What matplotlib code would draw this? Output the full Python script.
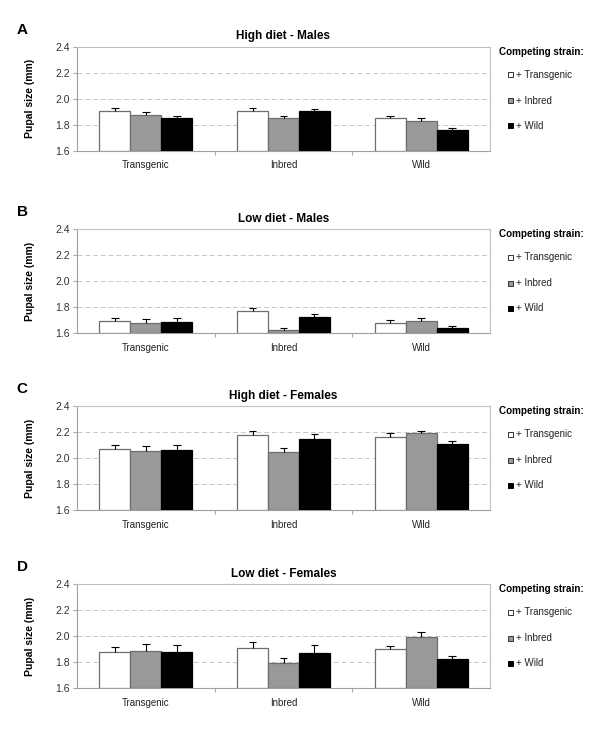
import matplotlib
matplotlib.use("Agg")
import matplotlib.pyplot as plt
from matplotlib.patches import Rectangle
import numpy as np

plt.rcParams['font.family'] = ['Liberation Sans', 'DejaVu Sans']

categories = ["Transgenic", "Inbred", "Wild"]
series_names = ["+ Transgenic", "+ Inbred", "+ Wild"]
panel_letters = ["A", "B", "C", "D"]
panel_titles = ["High diet - Males", "Low diet - Males", "High diet - Females", "Low diet - Females"]

# values[panel][series][category]
means_A = [[1.905, 1.905, 1.849], [1.877, 1.854, 1.826], [1.851, 1.903, 1.759]]
errs_A = [[0.025, 0.025, 0.020], [0.023, 0.015, 0.023], [0.014, 0.020, 0.016]]
means_B = [[1.692, 1.769, 1.677], [1.682, 1.623, 1.697], [1.687, 1.723, 1.643]]
errs_B = [[0.023, 0.023, 0.023], [0.030, 0.018, 0.018], [0.028, 0.028, 0.016]]
means_C = [[2.069, 2.176, 2.161], [2.054, 2.049, 2.191], [2.062, 2.148, 2.104]]
errs_C = [[0.028, 0.030, 0.033], [0.038, 0.025, 0.020], [0.038, 0.035, 0.028]]
means_D = [[1.879, 1.912, 1.900], [1.887, 1.797, 1.995], [1.879, 1.874, 1.825]]
errs_D = [[0.036, 0.044, 0.028], [0.056, 0.036, 0.036], [0.056, 0.057, 0.026]]

all_means = [means_A, means_B, means_C, means_D]
all_errs = [errs_A, errs_B, errs_C, errs_D]

y_ticks = [1.6, 1.8, 2.0, 2.2, 2.4]
y_tick_labels = ["1.6", "1.8", "2.0", "2.2", "2.4"]

face_colors = ["white", "#999999", "black"]
edge_colors = ["#6e6e6e", "#6e6e6e", "black"]

W, H = 600, 729
fig = plt.figure(figsize=(6, 7.29), dpi=100)

ax_left, ax_right = 77, 490
panel_tops = [46.7, 229.3, 406.0, 584.3]
panel_h = 104.0

def fx(px):
    return px / W

def fy(py):
    return 1 - py / H

bw = 0.225
x = np.arange(len(categories))
cap = 0.028

for p in range(4):
    top = panel_tops[p]
    ax = fig.add_axes([fx(ax_left), fy(top + panel_h), fx(ax_right - ax_left), panel_h / H])
    for s in range(3):
        xs = x + (s - 1) * bw
        ax.bar(xs, np.array(all_means[p][s]) - 1.6, bottom=1.6, width=bw,
               color=face_colors[s], edgecolor=edge_colors[s], linewidth=0.9, zorder=3)
        ys = np.array(all_means[p][s])
        es = np.array(all_errs[p][s])
        ax.vlines(xs, ys, ys + es, color="black", lw=0.8, zorder=4)
        ax.hlines(ys + es, xs - cap, xs + cap, color="black", lw=0.8, zorder=4)
    ax.set_xlim(-0.5, 2.5)
    ax.set_ylim(1.6, 2.4)
    ax.set_yticks(y_ticks)
    ax.set_yticklabels(y_tick_labels, fontsize=7.5, color="#333333")
    for yv in y_ticks[1:-1]:
        ax.axhline(yv, color="#c8c8c8", lw=0.7, ls=(0, (5, 3)), zorder=1)
    ax.set_xticks([0.5, 1.5], minor=False)
    ax.set_xticklabels([])
    ax.set_xticks(x, minor=True)
    ax.set_xticklabels(categories, minor=True, fontsize=7.0, color="#222222")
    ax.tick_params(axis='x', which='minor', length=0, pad=7)
    ax.tick_params(axis='x', which='major', length=3, color="#aaaaaa", direction='out')
    ax.tick_params(axis='y', length=3, color="#aaaaaa", direction='out', pad=2)
    for sp in ["top", "right"]:
        ax.spines[sp].set_color("#c0c0c0")
        ax.spines[sp].set_linewidth(0.8)
    for sp in ["left", "bottom"]:
        ax.spines[sp].set_color("#a0a0a0")
        ax.spines[sp].set_linewidth(0.8)
    ax.set_ylabel("Pupal size (mm)", fontsize=7.5, fontweight="bold", labelpad=15)

    fig.text(fx((ax_left + ax_right) / 2), fy(top - 10.5), panel_titles[p],
             ha="center", va="center", fontsize=8.5, fontweight="bold")
    fig.text(fx(22), fy(top - 17), panel_letters[p], ha="center", va="center",
             fontsize=11, fontweight="bold")

    fig.text(fx(499), fy(top + 5), "Competing strain:", ha="left", va="center",
             fontsize=7.1, fontweight="bold")
    for s, off in enumerate([28, 54, 79]):
        yc = top + off
        fig.add_artist(Rectangle((fx(507.5), fy(yc + 2.5)), 5 / W, 5 / H,
                                 transform=fig.transFigure, facecolor=face_colors[s],
                                 edgecolor="#333333" if s < 2 else "black", lw=0.7))
        fig.text(fx(516), fy(yc), series_names[s], ha="left", va="center",
                 fontsize=7.0, color="#222222")

fig.savefig("out.png", dpi=100)
